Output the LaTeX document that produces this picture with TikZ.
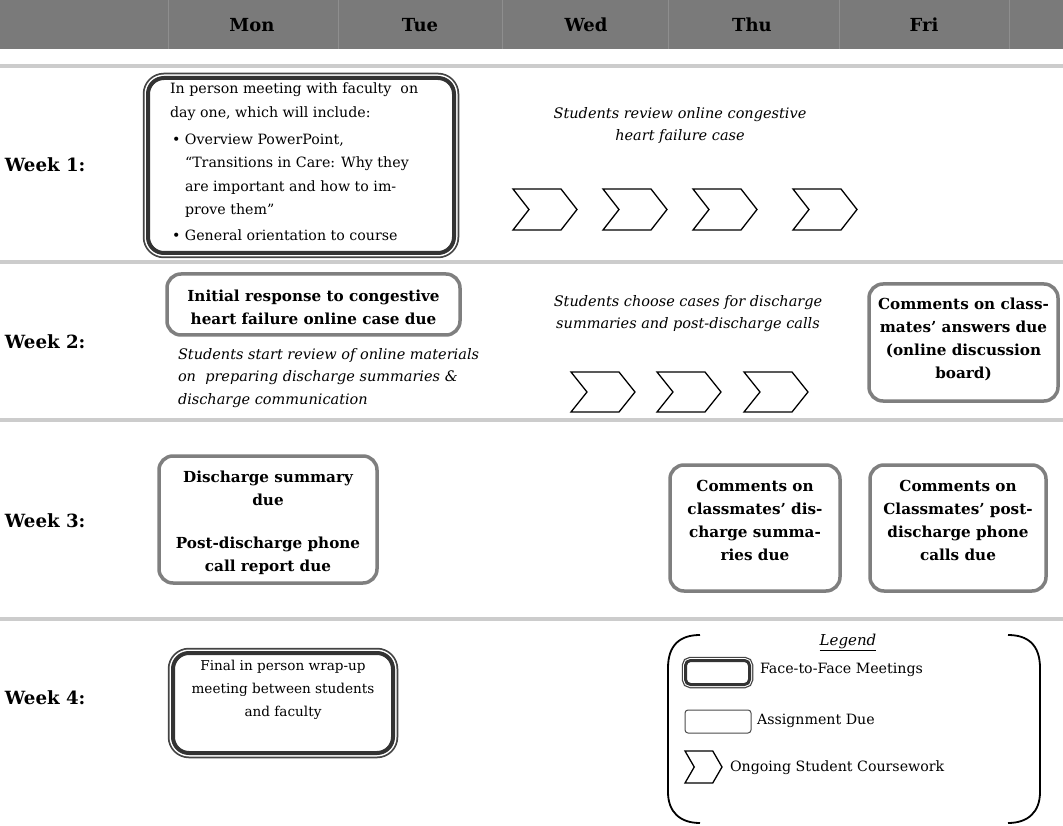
\documentclass[tikz,border=0pt]{standalone}
\usepackage{fontspec}
\setmainfont{DejaVu Serif}
\definecolor{hdrgray}{HTML}{7A7A7A}
\definecolor{hdrline}{HTML}{8E8E8E}
\definecolor{sepgray}{HTML}{CCCCCC}
\definecolor{meetdark}{HTML}{333333}
\definecolor{meetthin}{HTML}{444444}
\definecolor{assigngray}{HTML}{7F7F7F}
\begin{document}
\begin{tikzpicture}[x=1pt,y=-1pt,
  every node/.style={inner sep=0pt, outer sep=0pt},
  body/.style={font=\fontsize{14.2}{23.5}\selectfont},
  bodyb/.style={font=\fontsize{15.2}{23}\selectfont\bfseries},
  bodyi/.style={font=\fontsize{14.5}{22.5}\selectfont\itshape},
  dayf/.style={font=\fontsize{18}{20}\selectfont\bfseries},
  weekf/.style={font=\fontsize{18.2}{20}\selectfont\bfseries, anchor=west},
  meet/.style={draw=meetdark, line width=4pt, fill=white, rounded corners=16pt,
    preaction={draw=meetthin, line width=10.5pt},
    preaction={draw=white, line width=7pt}},
  meeticon/.style={draw=meetdark, line width=3pt, fill=white, rounded corners=5pt,
    preaction={draw=meetthin, line width=7.5pt},
    preaction={draw=white, line width=5pt}},
  assign/.style={draw=assigngray, line width=3.5pt, fill=white, rounded corners=14pt},
  assignicon/.style={draw=black!70, line width=1pt, fill=white, rounded corners=3pt},
  chevline/.style={draw=black, line width=1.3pt, fill=white, line join=miter},
  sepline/.style={draw=sepgray, line width=3.5pt},
  hdrsep/.style={draw=hdrline, line width=0.8pt},
  bracketline/.style={draw=black, line width=1.8pt},
  pics/chev/.style n args={2}{code={
    \draw[chevline] (0,0) -- ({0.75*#1},0) -- (#1,{#2/2}) -- ({0.75*#1},#2)
      -- (0,#2) -- ({0.25*#1},{#2/2}) -- cycle;}}
]
\useasboundingbox (0,0) rectangle (1063,826);
\fill[white] (0,0) rectangle (1063,826);

% header
\fill[hdrgray] (0,0) rectangle (1063,49);
\foreach \xx in {168,338,502,668,839,1009} \draw[hdrsep] (\xx,0) -- (\xx,49);
\node[dayf] (mon) at (252,25) {Mon};
\node[dayf] (tue) at (420,25) {Tue};
\node[dayf] (wed) at (586,25) {Wed};
\node[dayf] (thu) at (752,25) {Thu};
\node[dayf] (fri) at (924,25) {Fri};

% separators
\foreach \yy in {66,262,420,619} \draw[sepline] (0,\yy) -- (1063,\yy);

% week labels
\node[weekf] (wk1) at (5,165) {Week 1:};
\node[weekf] (wk2) at (5,342) {Week 2:};
\node[weekf] (wk3) at (5,521) {Week 3:};
\node[weekf] (wk4) at (5,698) {Week 4:};

% ---------- Week 1
\node[meet, minimum width=306, minimum height=175] (w1box) at (301,165.5) {};
\node[body, align=left, anchor=north west] (w1text) at (170,83) {%
In person meeting with faculty~~on\\
day one, which will include:\\[3.5pt]
\hspace*{2pt}\makebox[13pt][l]{\textbullet}Overview PowerPoint,\\
\hspace*{15pt}“Transitions in Care: Why they\\
\hspace*{15pt}are important and how to im-\\
\hspace*{15pt}prove them”\\[2.5pt]
\hspace*{2pt}\makebox[13pt][l]{\textbullet}General orientation to course};

\node[bodyi, align=center] (w1ital) at (680,125.5) {Students review online congestive\\heart failure case};
\pic (c11) at (513,189) {chev={64}{41}};
\pic (c12) at (603,189) {chev={64}{41}};
\pic (c13) at (693,189) {chev={64}{41}};
\pic (c14) at (793,189) {chev={64}{41}};

% ---------- Week 2
\node[assign, minimum width=293, minimum height=61] (w2a) at (313.5,304.5) {};
\node[bodyb, align=center] (w2atext) at (313.5,307) {Initial response to congestive\\heart failure online case due};
\node[bodyi, align=left, anchor=west] (w2ital) at (178,378) {Students start review of online materials\\on~~preparing discharge summaries \&\\discharge communication};
\node[bodyi, align=center] (w2ital2) at (688,313.5) {Students choose cases for discharge\\summaries and post-discharge calls};
\pic (c21) at (571,372) {chev={64}{40}};
\pic (c22) at (657,372) {chev={64}{40}};
\pic (c23) at (744,372) {chev={64}{40}};
\node[assign, minimum width=189, minimum height=117] (w2b) at (963.5,342.5) {};
\node[bodyb, align=center] (w2btext) at (963.5,339) {Comments on class-\\mates’ answers due\\(online discussion\\board)};

% ---------- Week 3
\node[assign, minimum width=218, minimum height=127] (w3a) at (268,519.5) {};
\node[bodyb, align=center] (w3atext) at (268,523) {Discharge summary\\due\\[20pt]Post-discharge phone\\call report due};
\node[assign, minimum width=170, minimum height=126] (w3b) at (755,528) {};
\node[bodyb, align=center] (w3btext) at (755,520) {Comments on\\classmates’ dis-\\charge summa-\\ries due};
\node[assign, minimum width=176, minimum height=126] (w3c) at (958,528) {};
\node[bodyb, align=center] (w3ctext) at (958,520) {Comments on\\Classmates’ post-\\discharge phone\\calls due};

% ---------- Week 4
\node[meet, minimum width=220, minimum height=100] (w4box) at (283,703) {};
\node[font=\fontsize{13.6}{23}\selectfont, align=center] (w4text) at (283,690) {Final in person wrap-up\\meeting between students\\and faculty};

% ---------- Legend
\draw[bracketline] (700,635) .. controls (680,635) and (668,645) .. (668,668)
  -- (668,792) .. controls (668,812) and (680,823) .. (700,823);
\draw[bracketline] (1008,635) .. controls (1028,635) and (1040,645) .. (1040,668)
  -- (1040,792) .. controls (1040,812) and (1028,823) .. (1008,823);
\node[body] (legtitle) at (848,642) {\fontsize{15}{18}\selectfont\itshape\underline{Legend}};
\node[meeticon, minimum width=64, minimum height=24] (legmeet) at (717.5,672.5) {};
\node[body, anchor=west] (legmeettext) at (760,670) {Face-to-Face Meetings};
\node[assignicon, minimum width=66, minimum height=23] (legassign) at (718,721.5) {};
\node[body, anchor=west] (legassigntext) at (757,721) {Assignment Due};
\pic (legchev) at (685,751) {chev={37}{32}};
\node[body, anchor=west] (legchevtext) at (730,768) {Ongoing Student Coursework};
\end{tikzpicture}
\end{document}
